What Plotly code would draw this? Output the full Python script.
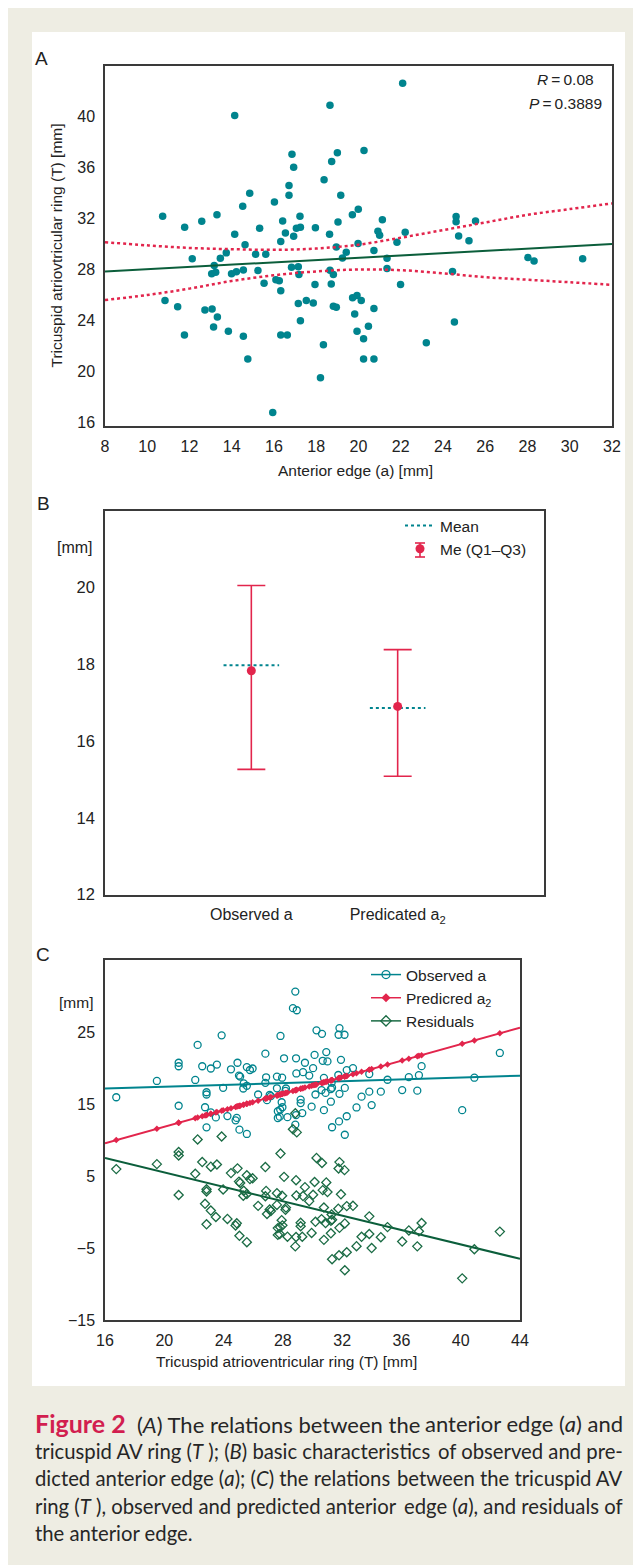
import plotly.graph_objects as go

# ---------------- data ----------------
# Panel A: anterior edge a [mm] vs tricuspid ring T [mm]
a_vals = [10.73, 11.77, 12.58, 13.30, 14.14, 14.14, 14.63, 14.52, 14.85, 15.32, 16.02, 16.41, 16.54, 16.32,
          16.71, 16.71, 16.85, 16.93, 17.23, 17.06, 17.25, 16.93, 17.96, 18.37, 18.65, 18.73, 19.00, 19.16,
          19.03, 18.63, 18.95, 19.71, 19.99, 19.98,
          22.09, 20.26, 21.13, 20.92, 21.00, 22.21, 21.82, 20.73, 24.62, 24.62, 25.54, 24.74, 25.23,
          12.13, 13.46, 13.74, 13.17, 13.05, 13.24, 13.99, 14.22, 14.55, 15.13, 15.61, 15.24, 15.53, 16.09,
          16.25, 16.32, 16.83, 17.15, 17.18, 17.94, 18.65, 18.81, 18.71, 19.24, 19.42, 10.84, 11.44, 11.76,
          12.73, 13.07, 13.32, 13.14, 13.84, 14.55, 14.76, 15.94, 16.32, 16.63, 17.15, 17.25, 17.53, 17.86,
          18.34, 18.20, 18.81, 18.95, 19.72, 19.93, 19.82, 19.93,
          20.13, 21.35, 21.35, 21.99, 24.45, 28.02, 28.31, 30.61, 20.73, 20.47, 20.24, 20.24, 20.73, 23.21, 24.54]
T_vals = [32.18, 31.32, 31.79, 32.31, 40.10, 30.77, 29.94, 32.97, 33.99, 31.24, 33.31, 31.82, 30.88, 30.20,
          34.61, 33.83, 37.07, 36.05, 32.18, 31.24, 31.32, 30.61, 31.29, 35.06, 40.92, 36.50, 37.18, 33.83,
          31.74, 30.77, 29.78, 32.31, 32.73, 30.04,
          42.64, 37.36, 31.92, 31.01, 30.69, 30.93, 30.14, 29.49, 32.16, 31.76, 31.82, 30.64, 30.27,
          28.84, 28.89, 29.31, 28.31, 27.66, 27.79, 27.66, 27.82, 27.97, 29.20, 29.20, 27.92, 26.93, 27.19,
          27.11, 26.33, 28.18, 28.21, 27.60, 26.82, 27.95, 27.60, 26.87, 28.91, 29.36, 25.57, 25.07, 22.85,
          24.81, 24.89, 24.26, 23.48, 23.14, 22.75, 20.97, 16.76, 22.85, 22.85, 25.33, 23.97, 25.57, 25.36,
          22.09, 19.50, 25.12, 25.04, 25.78, 25.96, 24.50, 23.14,
          25.57, 28.89, 28.08, 26.82, 27.84, 28.94, 28.68, 28.84, 24.94, 23.55, 22.56, 20.97, 20.97, 22.25, 23.87]

fitA_x = [8, 32]
fitA_y = [27.85, 30.0]
band_x = [8, 10, 12, 14, 16, 18, 20, 22, 24, 26, 28, 30, 32]
band_upper = [30.15, 29.9, 29.7, 29.6, 29.55, 29.65, 29.95, 30.5, 31.1, 31.7, 32.3, 32.75, 33.2]
band_lower = [25.6, 26.0, 26.5, 27.1, 27.55, 27.85, 28.0, 27.95, 27.7, 27.4, 27.2, 27.0, 26.8]

# Panel B: summary statistics
b_categories = ["Observed a", "Predicated a<sub>2</sub>"]
b_median = [17.83, 16.90]
b_q1 = [15.26, 15.08]
b_q3 = [20.05, 18.38]
b_mean = [17.97, 16.86]

# Panel C: predicted a2 line (read), fitted lines (read)
pred_intercept = 0.38
pred_slope = 0.573
fitC_x = [16, 44]
fitC_obs = [17.14, 18.93]
fitC_pred = [9.55, 25.6]
fitC_res = [7.5, -6.5]

# ---------------- style ----------------
OFF = 8                     # page body margin
W, H = 633, 1557
def px(x): return (x - OFF) / W
def py(y): return 1 - (y - OFF) / H

TEAL = "#00848e"
RED = "#e2254c"
GREEN = "#0b5e3b"
RESGREEN = "#1a6b44"
AXIS = "#3a3a3a"
TXT = "#222222"
FONT = "Liberation Sans, Arial, sans-serif"
BEIGE = "#eeede3"

fig = go.Figure()

# ---------- Panel A ----------
fig.add_trace(go.Scatter(x=a_vals, y=T_vals, mode="markers", xaxis="x", yaxis="y",
                         marker=dict(color=TEAL, size=7.5), showlegend=False))
fig.add_trace(go.Scatter(x=band_x, y=band_upper, mode="lines", xaxis="x", yaxis="y",
                         line=dict(color=RED, width=2.5, dash="dot", shape="spline"), showlegend=False))
fig.add_trace(go.Scatter(x=band_x, y=band_lower, mode="lines", xaxis="x", yaxis="y",
                         line=dict(color=RED, width=2.5, dash="dot", shape="spline"), showlegend=False))
fig.add_trace(go.Scatter(x=fitA_x, y=fitA_y, mode="lines", xaxis="x", yaxis="y",
                         line=dict(color=GREEN, width=2), showlegend=False))

# ---------- Panel B ----------
half = 0.19
mx, my = [], []
for i, m in enumerate(b_mean):
    mx += [i - half, i + half, None]
    my += [m, m, None]
fig.add_trace(go.Scatter(x=mx, y=my, mode="lines", xaxis="x2", yaxis="y2",
                         line=dict(color=TEAL, width=2, dash="dot"), name="Mean", legend="legend2"))
fig.add_trace(go.Scatter(x=list(range(len(b_median))), y=b_median, mode="markers", xaxis="x2", yaxis="y2",
                         marker=dict(color=RED, size=9),
                         error_y=dict(type="data", symmetric=False,
                                      array=[q3 - m for q3, m in zip(b_q3, b_median)],
                                      arrayminus=[m - q1 for q1, m in zip(b_q1, b_median)],
                                      color=RED, thickness=1.6, width=14),
                         name="Me (Q1\u2013Q3)", legend="legend2"))

# ---------- Panel C ----------
pred_vals = [pred_intercept + pred_slope * t for t in T_vals]
res_vals = [a - p for a, p in zip(a_vals, pred_vals)]
fig.add_trace(go.Scatter(x=fitC_x, y=fitC_obs, mode="lines", xaxis="x3", yaxis="y3",
                         line=dict(color=TEAL, width=2), showlegend=False))
fig.add_trace(go.Scatter(x=fitC_x, y=fitC_res, mode="lines", xaxis="x3", yaxis="y3",
                         line=dict(color=GREEN, width=2), showlegend=False))
fig.add_trace(go.Scatter(x=T_vals, y=a_vals, mode="markers", xaxis="x3", yaxis="y3",
                         marker=dict(symbol="circle-open", color=TEAL, size=7, line=dict(width=1.3)),
                         showlegend=False))
fig.add_trace(go.Scatter(x=T_vals, y=res_vals, mode="markers", xaxis="x3", yaxis="y3",
                         marker=dict(symbol="diamond-open", color=RESGREEN, size=7, line=dict(width=1.3)),
                         showlegend=False))
fig.add_trace(go.Scatter(x=fitC_x, y=fitC_pred, mode="lines", xaxis="x3", yaxis="y3",
                         line=dict(color=RED, width=2), showlegend=False))
fig.add_trace(go.Scatter(x=T_vals, y=pred_vals, mode="markers", xaxis="x3", yaxis="y3",
                         marker=dict(symbol="diamond", color=RED, size=5), showlegend=False))
# legend entries for C
fig.add_trace(go.Scatter(x=[None], y=[None], mode="lines+markers", xaxis="x3", yaxis="y3",
                         line=dict(color=TEAL, width=1.5),
                         marker=dict(symbol="circle-open", color=TEAL, size=8, line=dict(width=1.3)),
                         name="Observed a", legend="legend3"))
fig.add_trace(go.Scatter(x=[None], y=[None], mode="lines+markers", xaxis="x3", yaxis="y3",
                         line=dict(color=RED, width=1.5),
                         marker=dict(symbol="diamond", color=RED, size=7),
                         name="Predicred a<sub>2</sub>", legend="legend3"))
fig.add_trace(go.Scatter(x=[None], y=[None], mode="lines+markers", xaxis="x3", yaxis="y3",
                         line=dict(color=RESGREEN, width=1.5),
                         marker=dict(symbol="diamond-open", color=RESGREEN, size=8, line=dict(width=1.3)),
                         name="Residuals", legend="legend3"))

def axis(domain, rng, tickvals, anchor, fs=16, ticktext=None, standoff=5):
    d = dict(domain=domain, range=rng, tickvals=tickvals, anchor=anchor,
             showline=True, mirror=True, linecolor=AXIS, linewidth=1.5,
             ticks="", showgrid=False, zeroline=False, ticklabelstandoff=standoff,
             tickfont=dict(family=FONT, size=fs, color=TXT), automargin=False)
    if ticktext is not None:
        d["ticktext"] = ticktext
    return d

layout = dict(
    width=W, height=H, autosize=False,
    margin=dict(l=0, r=0, t=0, b=0),
    paper_bgcolor=BEIGE, plot_bgcolor="white",
    font=dict(family=FONT, color=TXT),
    xaxis=axis([px(105), px(612)], [8, 32], list(range(8, 33, 2)), "y"),
    yaxis=axis([py(426), py(66)], [15.7, 44], list(range(16, 41, 4)), "x"),
    xaxis2=axis([px(105), px(544)], [-1, 2], [0, 1], "y2", ticktext=b_categories),
    yaxis2=axis([py(894.5), py(510.7)], [12, 22], [12, 14, 16, 18, 20], "x2", fs=16.5),
    xaxis3=axis([px(105), px(520)], [16, 44], list(range(16, 45, 4)), "y3"),
    yaxis3=axis([py(1320), py(960)], [-15, 35], [-15, -5, 5, 15, 25], "x3"),
    legend2=dict(x=px(400), y=py(509), xanchor="left", yanchor="top", bgcolor="rgba(0,0,0,0)",
                 font=dict(family=FONT, size=15.5, color=TXT), tracegroupgap=0, itemwidth=30),
    legend3=dict(x=px(366), y=py(958), xanchor="left", yanchor="top", bgcolor="rgba(0,0,0,0)",
                 font=dict(family=FONT, size=15.5, color=TXT), tracegroupgap=0, itemwidth=30),
    showlegend=True,
)
fig.update_layout(**layout)

# white panel behind the three charts
fig.add_shape(type="rect", xref="paper", yref="paper", x0=px(32), x1=px(625), y0=py(1386), y1=py(32),
              fillcolor="white", line=dict(width=0), layer="below")
# error-bar glyph for the "Me (Q1–Q3)" legend entry
LX, LY = 420, 550
fig.add_shape(type="line", xref="paper", yref="paper", x0=px(LX), x1=px(LX), y0=py(LY - 7), y1=py(LY + 7),
              line=dict(color=RED, width=1.6))
for dy in (-7, 7):
    fig.add_shape(type="line", xref="paper", yref="paper", x0=px(LX - 5), x1=px(LX + 5),
                  y0=py(LY + dy), y1=py(LY + dy), line=dict(color=RED, width=1.6))

def ann(text, x, y, size=15.5, xanchor="center", yanchor="middle", angle=0, color=TXT, family=FONT):
    fig.add_annotation(text=text, x=px(x), y=py(y), xref="paper", yref="paper", showarrow=False,
                       xanchor=xanchor, yanchor=yanchor, textangle=angle,
                       font=dict(family=family, size=size, color=color))

ann("A", 41.5, 59, size=19)
ann("B", 43, 504, size=19)
ann("C", 42.5, 954, size=19)
ann("Tricuspid atriovtricular ring (T) [mm]", 55.5, 246, angle=-90)
ann("Anterior edge (a) [mm]", 355, 470)
ann("<i>R</i>\u2009=\u20090.08", 596, 79, xanchor="right")
ann("<i>P</i>\u2009=\u20090.3889", 604, 103.5, xanchor="right")
ann("[mm]", 95, 547.5, xanchor="right", size=16)
ann("[mm]", 95, 1002.5, xanchor="right")
ann("Tricuspid atrioventricular ring (T) [mm]", 286.5, 1361)

# caption (justified: left part anchored left, right part anchored right)
CAP = "Lato, Noto Sans, sans-serif"
CAPCOL = "#262626"
fig2 = "<span style='color:#d21e50;font-size:25px'><b>Figure 2</b></span>"
# line 1 (slightly larger body to fill the justified width)
ann(fig2 + "  (<i>A</i>) The relations between the", 33, 1423, size=22, xanchor="left",
    family=CAP, color=CAPCOL)
ann("anterior edge (<i>a</i>) and", 625, 1423, size=22, xanchor="right", family=CAP, color=CAPCOL)
cap_parts = [
    ("tricuspid AV ring (<i>T</i> ); (<i>B</i>) basic characteristics", "of observed and pre-"),
    ("dicted anterior edge (<i>a</i>); (<i>C</i>) the relations", "between the tricuspid AV"),
    ("ring (<i>T</i> ), observed and predicted anterior", "edge (<i>a</i>), and residuals of"),
    ("the anterior edge.", None),
]
cap_y = [1450.5, 1478, 1505.5, 1533]
for (left, right), yy in zip(cap_parts, cap_y):
    ann(left, 33, yy, size=20.3, xanchor="left", family=CAP, color=CAPCOL)
    if right:
        ann(right, 625, yy, size=20.3, xanchor="right", family=CAP, color=CAPCOL)

fig.write_html("out.html")
